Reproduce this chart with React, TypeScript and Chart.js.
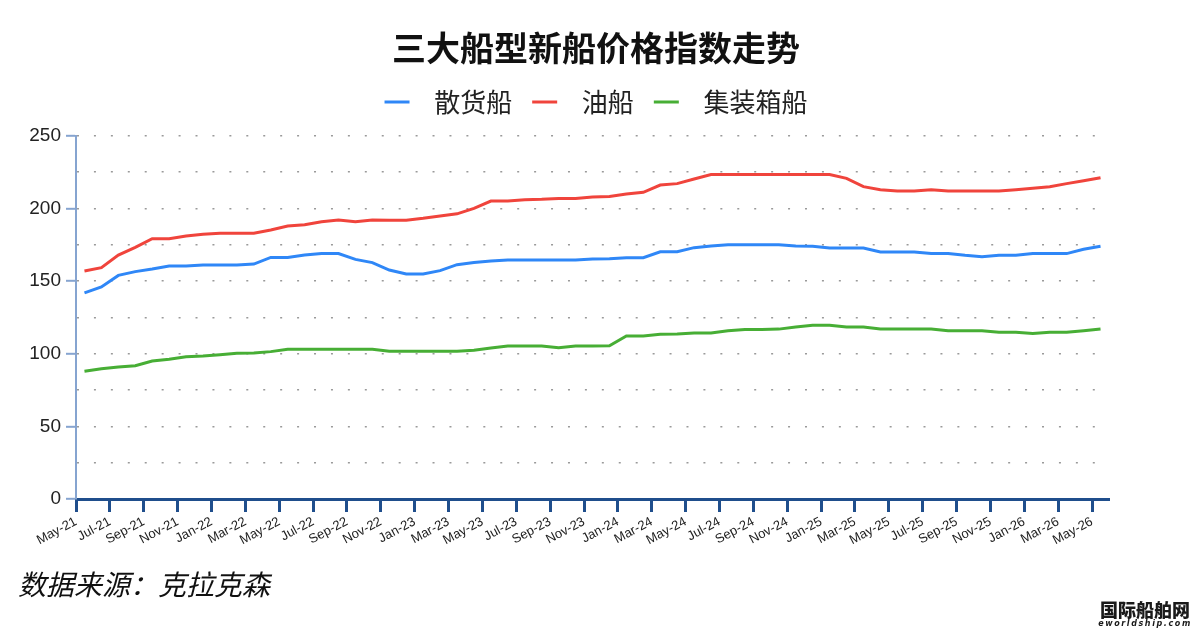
import React, { useEffect, useRef } from 'react';
import { Chart, registerables } from 'chart.js';

Chart.register(...registerables);

const months = [
  'May-21', 'Jun-21', 'Jul-21', 'Aug-21', 'Sep-21', 'Oct-21', 'Nov-21', 'Dec-21',
  'Jan-22', 'Feb-22', 'Mar-22', 'Apr-22', 'May-22', 'Jun-22', 'Jul-22', 'Aug-22', 'Sep-22', 'Oct-22', 'Nov-22', 'Dec-22',
  'Jan-23', 'Feb-23', 'Mar-23', 'Apr-23', 'May-23', 'Jun-23', 'Jul-23', 'Aug-23', 'Sep-23', 'Oct-23', 'Nov-23', 'Dec-23',
  'Jan-24', 'Feb-24', 'Mar-24', 'Apr-24', 'May-24', 'Jun-24', 'Jul-24', 'Aug-24', 'Sep-24', 'Oct-24', 'Nov-24', 'Dec-24',
  'Jan-25', 'Feb-25', 'Mar-25', 'Apr-25', 'May-25', 'Jun-25', 'Jul-25', 'Aug-25', 'Sep-25', 'Oct-25', 'Nov-25', 'Dec-25',
  'Jan-26', 'Feb-26', 'Mar-26', 'Apr-26', 'May-26',
];

const seriesNames = ['散货船', '油船', '集装箱船'];

const bulkValues = [
  142, 146, 154, 156.6, 158.4, 160.5, 160.5, 161.2, 161.2, 161.2, 161.8, 166.4, 166.4, 168, 169, 169, 165, 162.8, 157.7, 155, 155, 157.3, 161.4,
  162.8, 163.9, 164.6, 164.6, 164.6, 164.6, 164.6, 165.3, 165.5, 166.2, 166.2, 170.3, 170.3, 173.1, 174.2, 175.1, 175.1, 175.1, 175.1, 174.2,
  174, 172.9, 172.9, 172.9, 170.1, 170.1, 170.1, 169, 169, 167.8, 166.9, 167.8, 167.8, 169, 169, 169, 172, 174,
];

const tankerValues = [
  157, 159.3, 168, 173.3, 179.3, 179.3, 181.1, 182.3, 183, 183, 183, 185.3, 188, 188.9, 191, 192.1, 191, 192.1, 192, 192, 193.3, 194.9, 196.4,
  200.2, 205.2, 205.2, 206.1, 206.4, 207, 207, 208, 208.4, 210, 211.2, 216.2, 217.2, 220.4, 223.4, 223.4, 223.4, 223.4, 223.4, 223.4,
  223.4, 223.4, 220.8, 215.1, 213, 212.1, 212.1, 213, 212.1, 212.1, 212.1, 212.1, 213, 214, 215.1, 217.2, 219.2, 221.3,
];

const containerValues = [
  88, 89.7, 90.9, 91.8, 95, 96.2, 98, 98.5, 99.4, 100.3, 100.6, 101.5, 103.1, 103.1, 103.1, 103.1, 103.1, 103.1, 101.7, 101.7, 101.7, 101.7, 101.7,
  102.5, 104, 105.3, 105.3, 105.3, 104.2, 105.3, 105.3, 105.5, 112.3, 112.3, 113.4, 113.6, 114.3, 114.3, 115.9, 116.8, 116.8, 117, 118.5,
  119.6, 119.6, 118.5, 118.5, 117.1, 117.1, 117.1, 117.1, 115.9, 115.9, 115.9, 114.8, 114.8, 113.9, 114.8, 114.8, 115.9, 117.1,
];

const BLUE = '#2f87f7';
const RED = '#f0443c';
const GREEN = '#47ae35';
const DARK = '#1f4e8c';
const LIGHT = '#86a4d0';
const CJK = '"Noto Sans CJK SC", "Noto Sans", sans-serif';

export default function App() {
  const ref = useRef<HTMLCanvasElement>(null);

  useEffect(() => {
    if (!ref.current) return;
    const toPts = (arr: number[]) => arr.map((v, i) => ({ x: i + 0.5, y: v }));
    const mk = (label: string, arr: number[], color: string) => ({
      label,
      data: toPts(arr),
      borderColor: color,
      backgroundColor: color,
      borderWidth: 3,
      pointRadius: 0,
      tension: 0,
      xAxisID: 'x',
      yAxisID: 'y',
    });
    const chart = new Chart(ref.current, {
      type: 'line',
      data: {
        datasets: [
          mk(seriesNames[0], bulkValues, BLUE),
          mk(seriesNames[1], tankerValues, RED),
          mk(seriesNames[2], containerValues, GREEN),
        ],
      },
      options: {
        animation: false,
        responsive: false,
        layout: { padding: { top: 10, right: 0, bottom: 0, left: 0 } },
        plugins: {
          title: {
            display: true,
            text: '三大船型新船价格指数走势',
            color: '#111',
            font: { family: CJK, size: 34, weight: 'bold' },
            padding: { top: 17.6, bottom: 0.6 },
          },
          legend: {
            display: true,
            labels: {
              boxWidth: 25,
              boxHeight: 3,
              padding: 20,
              color: '#222',
              font: { family: CJK, size: 26 },
              generateLabels: (c: any) =>
                (Chart.defaults.plugins.legend.labels as any)
                  .generateLabels(c)
                  .map((l: any) => ({ ...l, text: '  ' + l.text, lineWidth: 0 })),
            },
          },
          tooltip: { enabled: false },
        },
        scales: {
          x: {
            type: 'linear',
            position: 'bottom',
            min: 0,
            max: months.length,
            afterBuildTicks: (s: any) => {
              s.ticks = months
                .map((_, i) => i)
                .filter((i) => i % 2 === 0)
                .map((i) => ({ value: i }));
            },
            afterFit: (s: any) => {
              s.height = 129;
            },
            grid: {
              drawOnChartArea: false,
              drawTicks: true,
              tickLength: 13,
              tickWidth: 3,
              tickColor: DARK,
            },
            border: { display: true, color: DARK, width: 3 },
            ticks: {
              autoSkip: false,
              maxRotation: 28,
              minRotation: 28,
              padding: 2,
              color: '#222',
              font: { family: '"Liberation Sans", Arial, sans-serif', size: 13 },
              callback: (v: any) => months[v] ?? '',
            },
          },
          xTop: {
            type: 'linear',
            position: 'top',
            display: true,
            ticks: { display: false },
            grid: { display: false },
            border: { display: false },
            afterFit: (s: any) => {
              s.height = 11;
            },
          },
          yRight: {
            type: 'linear',
            position: 'right',
            display: true,
            ticks: { display: false },
            grid: { display: false },
            border: { display: false },
            afterFit: (s: any) => {
              s.width = 83;
            },
          },
          y: {
            type: 'linear',
            position: 'left',
            min: 0,
            max: 250,
            afterFit: (s: any) => {
              s.width = 76;
            },
            ticks: {
              stepSize: 25,
              padding: 5,
              color: '#222',
              font: { family: '"Liberation Sans", Arial, sans-serif', size: 19 },
              callback: (v: any) => (v % 50 === 0 ? String(v) : ''),
            },
            grid: {
              color: (c: any) => (c.tick && c.tick.value === 0 ? 'rgba(0,0,0,0)' : '#9a9a9a'),
              lineWidth: 1.6,
              tickLength: 10,
              tickWidth: 2,
              tickColor: (c: any) => (c.tick && c.tick.value % 50 === 0 ? LIGHT : 'rgba(0,0,0,0)'),
            },
            border: {
              display: true,
              color: LIGHT,
              width: 2,
              dash: (c: any) => (c.type === 'tick' ? [2, 14.93] : []),
            },
          },
        },
      } as any,
    });
    return () => chart.destroy();
  }, []);

  return (
    <div style={{ position: 'fixed', left: 0, top: 0, width: 1192, height: 628, background: '#fff' }}>
      <canvas ref={ref} width={1192} height={628} style={{ position: 'absolute', left: 0, top: 0, width: 1192, height: 628 }} />
      <div
        style={{
          position: 'absolute',
          left: 18,
          top: 567,
          fontFamily: CJK,
          fontStyle: 'italic',
          fontSize: 28,
          lineHeight: '32px',
          color: '#111',
          whiteSpace: 'nowrap',
        }}
      >
        数据来源：克拉克森
      </div>
      <div style={{ position: 'absolute', left: 1098, top: 600, width: 94, textAlign: 'center', color: '#1a1a1a', whiteSpace: 'nowrap' }}>
        <div style={{ fontFamily: CJK, fontWeight: 900, fontSize: 18, lineHeight: '19px' }}>国际船舶网</div>
        <div style={{ fontFamily: '"DejaVu Sans", sans-serif', fontWeight: 'bold', fontStyle: 'italic', fontSize: 8, lineHeight: '9px', letterSpacing: 1.6 }}>eworldship.com</div>
      </div>
    </div>
  );
}
